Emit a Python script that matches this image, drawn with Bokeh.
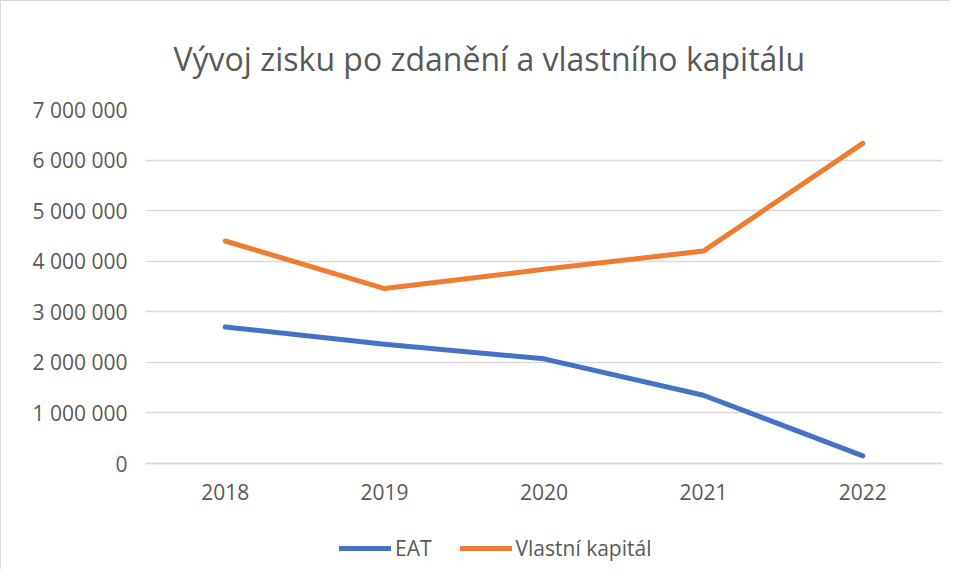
from bokeh.plotting import figure
from bokeh.models import Range1d, FactorRange, FixedTicker, Legend, LegendItem
from bokeh.embed import file_html
from bokeh.resources import INLINE

# ---- data ----
years = ["2018", "2019", "2020", "2021", "2022"]
eat = [2700000, 2360000, 2070000, 1350000, 150000]
vlastni_kapital = [4400000, 3460000, 3840000, 4200000, 6330000]
series_names = ["EAT", "Vlastní kapitál"]
y_ticks = [0, 1000000, 2000000, 3000000, 4000000, 5000000, 6000000, 7000000]
y_tick_labels = ["0", "1 000 000", "2 000 000", "3 000 000", "4 000 000",
                 "5 000 000", "6 000 000", "7 000 000"]
title_text = "Vývoj zisku po zdanění a vlastního kapitálu"

FONT = "Open Sans"
TEXT_COLOR = "#595959"
GRID_COLOR = "#D9D9D9"

# layout (pixels): value axis spans 354 px; 107 px of room below zero for
# the category labels and the legend
AXIS_PX = 354
BELOW_PX = 107
y_top = y_ticks[-1]
y_bottom = -y_top * BELOW_PX / AXIS_PX

p = figure(
    x_range=FactorRange(*years),
    y_range=Range1d(y_bottom, y_top),
    width=950, height=569,
    output_backend="svg", toolbar_location=None,
    min_border_left=144, min_border_right=9,
    min_border_top=108, min_border_bottom=0,
)
p.styles = {"border-top": "1px solid #d9d9d9", "border-left": "1px solid #d9d9d9"}
p.outline_line_color = None
p.background_fill_color = "white"
p.border_fill_color = "white"

# title
p.title.text = title_text
p.title.text_font = FONT
p.title.text_font_size = "32px"
p.title.text_font_style = "normal"
p.title.text_color = TEXT_COLOR
p.title.align = "left"
p.title.offset = 28
p.title.standoff = 60

# lines
r_eat = p.line(x=years, y=eat, line_color="#4472C4", line_width=5,
               line_cap="round", line_join="round")
r_vk = p.line(x=years, y=vlastni_kapital, line_color="#ED7D31", line_width=5,
              line_cap="round", line_join="round")

# y axis
p.yaxis.ticker = FixedTicker(ticks=y_ticks)
p.yaxis.major_label_overrides = {t: l for t, l in zip(y_ticks, y_tick_labels)}
p.yaxis.axis_line_color = None
p.yaxis.major_tick_line_color = None
p.yaxis.minor_tick_line_color = None
p.yaxis.major_label_text_font = FONT
p.yaxis.major_label_text_font_size = "21px"
p.yaxis.major_label_text_color = TEXT_COLOR
p.yaxis.major_label_standoff = 12

# x axis (sits on the zero line)
p.xaxis.fixed_location = 0
p.xaxis.axis_line_color = GRID_COLOR
p.xaxis.axis_line_width = 1.5
p.xaxis.major_tick_line_color = None
p.xaxis.minor_tick_line_color = None
p.xaxis.major_tick_out = 0
p.xaxis.major_tick_in = 0
p.xaxis.major_label_text_font = FONT
p.xaxis.major_label_text_font_size = "21px"
p.xaxis.major_label_text_color = TEXT_COLOR
p.xaxis.major_label_standoff = 20

# grid
p.xgrid.grid_line_color = None
p.ygrid.grid_line_color = GRID_COLOR
p.ygrid.grid_line_width = 1.5

# legend
legend = Legend(
    items=[LegendItem(label=series_names[0], renderers=[r_eat]),
           LegendItem(label=series_names[1], renderers=[r_vk])],
    orientation="horizontal",
    location=(194, 8),
    border_line_color=None,
    background_fill_alpha=0,
    padding=0, margin=0,
    glyph_width=52, glyph_height=20,
    label_height=20,
    label_standoff=4, spacing=28,
    label_text_font=FONT, label_text_font_size="21px",
    label_text_color=TEXT_COLOR,
)
p.add_layout(legend, "center")

open("out.html", "w").write(file_html(p, INLINE))
